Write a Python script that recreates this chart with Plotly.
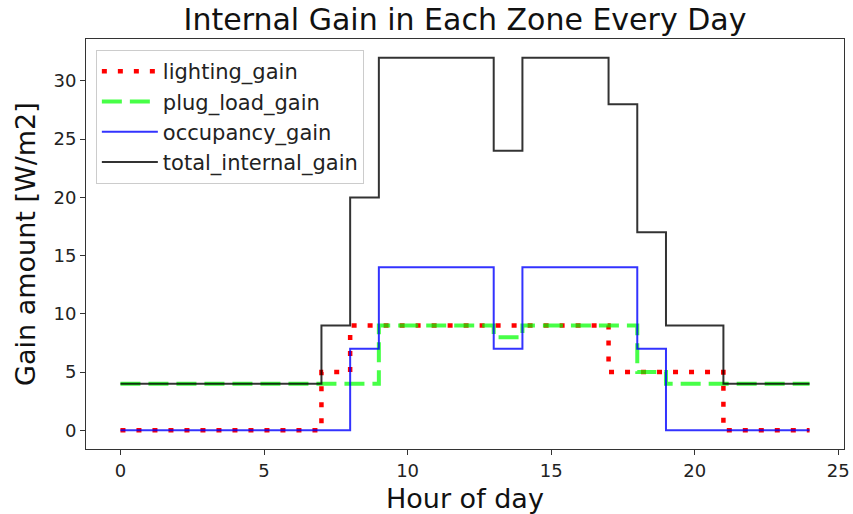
import plotly.graph_objects as go

hours = list(range(0, 25))
lighting_gain = [0, 0, 0, 0, 0, 0, 0, 5, 9, 9, 9, 9, 9, 9, 9, 9, 9, 5, 5, 5, 5, 0, 0, 0, 0]
plug_load_gain = [4, 4, 4, 4, 4, 4, 4, 4, 4, 9, 9, 9, 9, 8, 9, 9, 9, 9, 5, 4, 4, 4, 4, 4, 4]
occupancy_gain = [0, 0, 0, 0, 0, 0, 0, 0, 7, 14, 14, 14, 14, 7, 14, 14, 14, 14, 7, 0, 0, 0, 0, 0, 0]
total_internal_gain = [4, 4, 4, 4, 4, 4, 4, 9, 20, 32, 32, 32, 32, 24, 32, 32, 32, 28, 17, 9, 9, 4, 4, 4, 4]

x_ticks = [0, 5, 10, 15, 20, 25]
y_ticks = [0, 5, 10, 15, 20, 25, 30]

FONT = "DejaVu Sans"
W, H = 853, 514

fig = go.Figure()
fig.add_trace(go.Scatter(x=hours, y=lighting_gain, mode="lines", name="lighting_gain",
                         line=dict(color="red", width=4.5, dash="5px,11px", shape="hv"),
                         legendgroup="a"))
fig.add_trace(go.Scatter(x=hours, y=plug_load_gain, mode="lines", name="plug_load_gain",
                         line=dict(color="rgba(0,255,0,0.72)", width=4, dash="20px,8px", shape="hv"),
                         legendgroup="b"))
fig.add_trace(go.Scatter(x=hours, y=occupancy_gain, mode="lines", name="occupancy_gain",
                         line=dict(color="rgba(0,0,255,0.8)", width=2, shape="hv"),
                         legendgroup="c"))
fig.add_trace(go.Scatter(x=hours, y=total_internal_gain, mode="lines", name="total_internal_gain",
                         line=dict(color="rgba(0,0,0,0.8)", width=2, shape="hv"),
                         legendgroup="d"))

axis_common = dict(
    showline=True, linecolor="#333333", linewidth=1, mirror=True,
    ticks="outside", ticklen=5, tickwidth=1, tickcolor="#333333",
    showgrid=False, zeroline=False, automargin=False,
    tickfont=dict(family=FONT, size=18, color="#222222"),
)

fig.update_layout(
    width=W, height=H,
    margin=dict(l=86, r=9, t=39, b=65),
    paper_bgcolor="white", plot_bgcolor="white",
    font=dict(family=FONT, color="#222222"),
    title=dict(text="Internal Gain in Each Zone Every Day", x=465 / W, xanchor="center",
               y=1 - 19 / H, yanchor="middle", font=dict(family=FONT, size=30, color="#111111")),
    xaxis=dict(range=[-1.2, 25.2], tickvals=x_ticks, **axis_common),
    yaxis=dict(range=[-1.6, 33.6], tickvals=y_ticks, **axis_common),
    legend=dict(x=0.013, y=0.973, xanchor="left", yanchor="top",
                bgcolor="rgba(255,255,255,0.8)", bordercolor="#cccccc", borderwidth=1,
                font=dict(family=FONT, size=21, color="#222222"),
                itemwidth=56, tracegroupgap=2, traceorder="normal"),
    showlegend=True,
    annotations=[
        dict(text="Hour of day", xref="paper", yref="paper", x=0.5, y=-(498 - 449) / 410,
             xanchor="center", yanchor="middle", showarrow=False,
             font=dict(family=FONT, size=27, color="#111111")),
        dict(text="Gain amount [W/m2]", xref="paper", yref="paper", x=(25 - 86) / 758, y=0.5,
             xanchor="center", yanchor="middle", textangle=-90, showarrow=False,
             font=dict(family=FONT, size=27, color="#111111")),
    ],
)

# remove the browser's default 8px body margin so the figure fills the window exactly
fig.write_html("out.html", config={"displayModeBar": False},
               post_script="document.body.style.margin='0';")
